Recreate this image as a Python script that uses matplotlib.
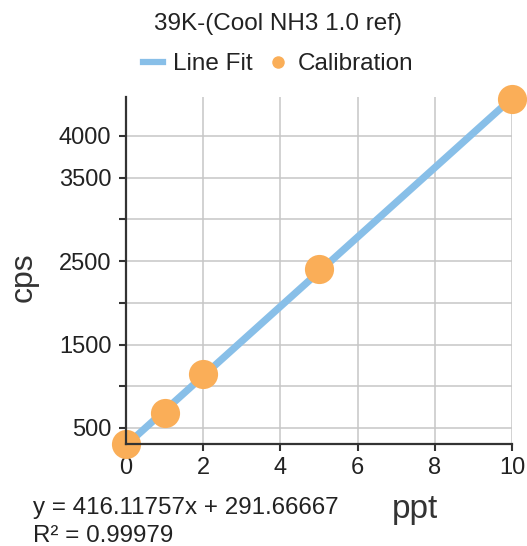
import matplotlib
matplotlib.use("Agg")
import matplotlib.pyplot as plt
from matplotlib.lines import Line2D
import numpy as np

plt.rcParams['font.family'] = ['Liberation Sans', 'DejaVu Sans']

# Calibration standards (ppt) and measured counts (cps)
conc_ppt = [0, 1, 2, 5, 10]
counts_cps = [308, 683, 1144, 2403, 4441]

# Linear fit reported for the calibration
slope = 416.11757
intercept = 291.66667
r_squared = 0.99979

y_ticks = [500, 1000, 1500, 2000, 2500, 3000, 3500, 4000]
y_tick_labels = ['500', '', '1500', '', '2500', '', '3500', '4000']
x_ticks = [0, 2, 4, 6, 8, 10]

title = '39K-(Cool NH3 1.0 ref)'

line_color = '#88BFE8'
point_color = '#FAAE58'
axis_color = '#333333'
grid_color = '#C6C6C6'

fig = plt.figure(figsize=(5.27, 5.46), dpi=100)
ax = fig.add_axes([126/527, 1 - 444/546, (512 - 126)/527, (444 - 97)/546])

fit_x = np.array([min(conc_ppt), max(conc_ppt)], dtype=float)
fit_y = slope * fit_x + intercept
ax.plot(fit_x, fit_y, color=line_color, lw=5.2, solid_capstyle='butt', zorder=2)
ax.plot(conc_ppt, counts_cps, 'o', ms=21, color=point_color, mec='none',
        clip_on=False, zorder=2.4)

ax.set_xlim(0, 10)
ax.set_ylim(308, 4467)
ax.set_xticks(x_ticks)
ax.set_yticks(y_ticks)
ax.set_yticklabels(y_tick_labels)

ax.grid(True, color=grid_color, lw=1.1, zorder=0)
ax.set_axisbelow(True)
for side in ('top', 'right'):
    ax.spines[side].set_visible(False)
for side in ('left', 'bottom'):
    ax.spines[side].set_color(axis_color)
    ax.spines[side].set_linewidth(1.6)
    ax.spines[side].set_zorder(3)

ax.tick_params(axis='both', which='major', length=5, width=1.5,
               color=axis_color, labelsize=17, labelcolor='#222222')
ax.tick_params(axis='y', pad=5.5)
ax.tick_params(axis='x', pad=4.5)

fig.text(278/527, 1 - 24/546, title, ha='center', va='center',
         fontsize=17.5, color='#222222')

handles = [
    Line2D([0], [0], color=line_color, lw=4.5),
    Line2D([0], [0], marker='o', ls='none', ms=9, color=point_color, mec='none'),
]
fig.legend(handles, ['Line Fit', 'Calibration'], loc='center',
           bbox_to_anchor=(278/527, 1 - 64/546), ncol=2, frameon=False,
           fontsize=17.5, handlelength=0.85, handletextpad=0.4,
           columnspacing=0.6, borderpad=0, labelcolor='#222222')

fig.text(415/527, 1 - 518/546, 'ppt', ha='center', va='baseline',
         fontsize=24, color='#333333')
fig.text(24/527, 1 - 277/546, 'cps', ha='center', va='center',
         rotation=90, fontsize=23, color='#333333')

fig.text(33/527, 1 - 514/546, f'y = {slope:.5f}x + {intercept:.5f}',
         ha='left', va='baseline', fontsize=17.4, color='#222222')
fig.text(33/527, 1 - 542/546, f'R\u00b2 = {r_squared:.5f}',
         ha='left', va='baseline', fontsize=17.4, color='#222222')

fig.savefig('out.png', dpi=100)
